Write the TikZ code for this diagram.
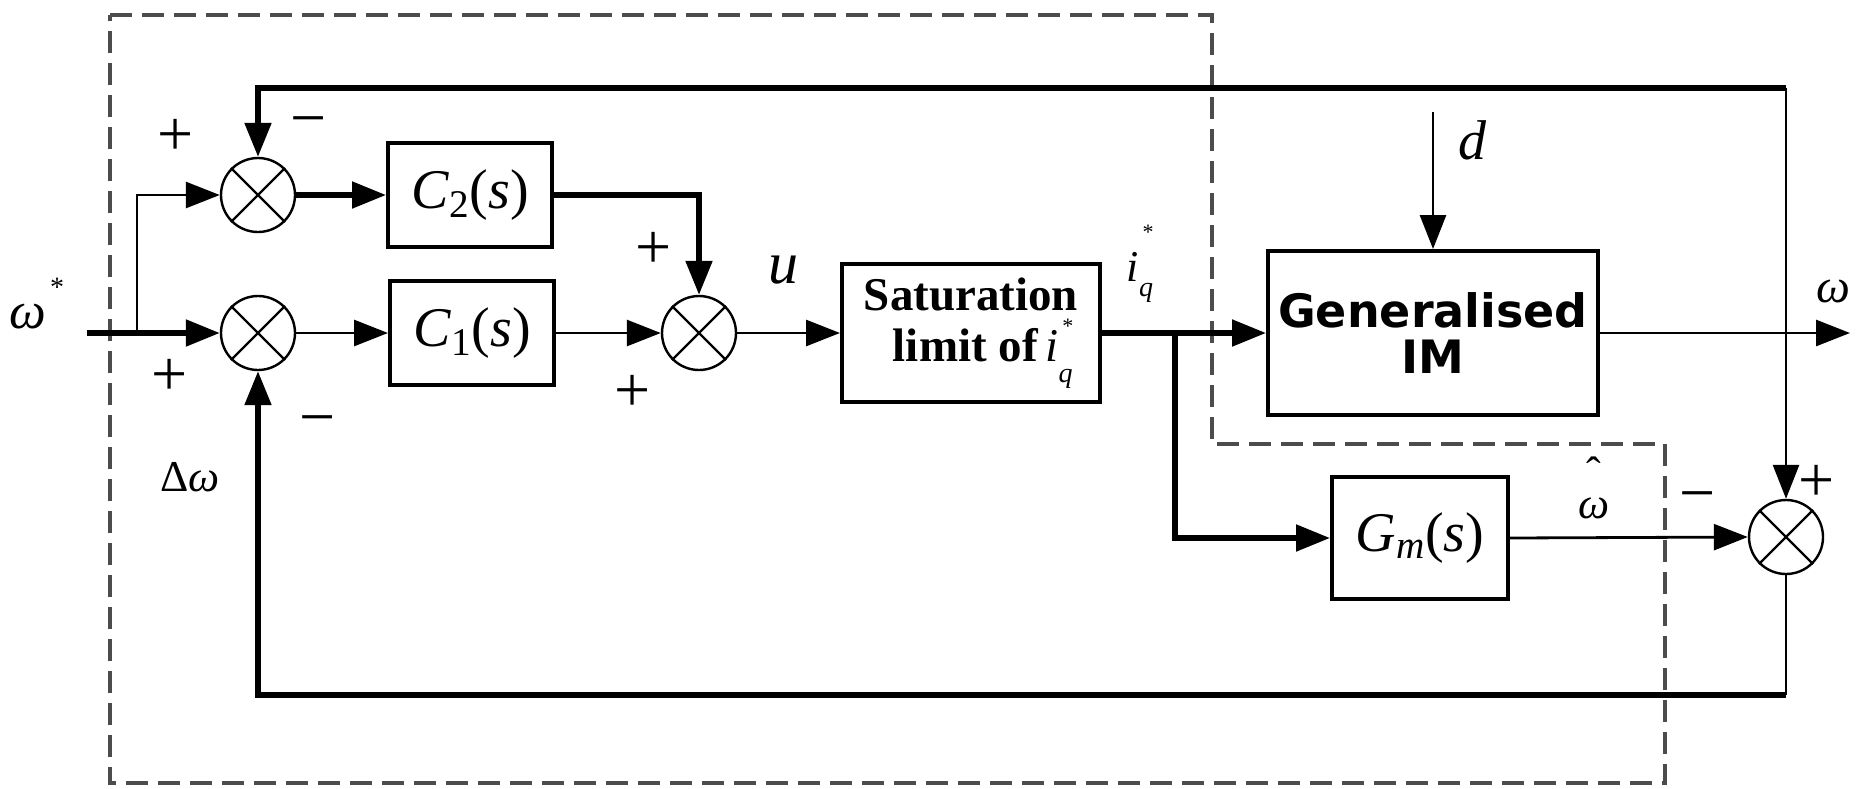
\documentclass[tikz,border=0pt]{standalone}
\usepackage{fontspec}
\setmainfont{Liberation Serif}
\newfontfamily\gimfont{DejaVu Sans}
\usetikzlibrary{arrows.meta}
\newcommand\fsz[1]{\fontsize{#1}{#1}\selectfont}
\newcommand\iqstar[2]{\textit{i}\makebox[0pt][l]{\kern0.08em\raisebox{#1}{\fsz{11}*}}\raisebox{-#2}{\fsz{14}\textit{q}}}
\newcommand\mysum[2]{\node[sumnode] (#1) at (#2) {};
  \draw[line width=1.2pt] (#1.north west) -- (#1.south east) (#1.north east) -- (#1.south west);}
\begin{document}
\begin{tikzpicture}[x=0.5pt,y=-0.5pt,
  thk/.style={line width=2.6pt},
  thn/.style={line width=1.4pt},
  arr/.style={-{Triangle[length=17pt,width=13pt]}},
  blk/.style={draw, line width=2pt, inner sep=0pt, align=center},
  sumnode/.style={circle, draw, line width=1.2pt, minimum size=37pt, inner sep=0pt},
  dashline/.style={draw=black!70, line width=1.6pt, dash pattern=on 11pt off 5pt},
  lbl/.style={inner sep=0pt},
  sgn/.style={inner sep=0pt, font=\fsz{32}}
]
\useasboundingbox (0,0) rectangle (1867,788);

% dashed boundary
\draw[dashline] (110,15) -- (1212,15) -- (1212,444) -- (1665,444) -- (1665,783) -- (110,783) -- cycle;

% blocks
\node[blk, minimum width=82pt, minimum height=52pt] (C2) at (470,195) {\fsz{28}\textit{C}\textsubscript{2}(\textit{s})};
\node[blk, minimum width=82pt, minimum height=52pt] (C1) at (472,333) {\fsz{28}\textit{C}\textsubscript{1}(\textit{s})};
\node[blk, minimum width=129pt, minimum height=69pt] (Sat) at (971,333) {\fsz{23.5}\bfseries Saturation\\[3pt]\fsz{23.5}\bfseries\ \ limit of\,{\mdseries\iqstar{0.6em}{0.45em}}};
\node[blk, minimum width=165pt, minimum height=82pt] (GIM) at (1433,333) {\gimfont\bfseries\fsz{23}Generalised\\[5pt]\gimfont\bfseries\fsz{23}IM};
\node[blk, minimum width=88pt, minimum height=61pt] (Gm) at (1420,538) {\fsz{28}\textit{G}\textsubscript{\textit{m}}(\textit{s})};

% summing junctions
\mysum{S2}{258,195}
\mysum{S1}{258,333}
\mysum{S3}{699,333}
\mysum{S4}{1786,537}

% coordinates
\coordinate (in) at (87,333);
\coordinate (br) at (137,333);
\coordinate (br2) at (1175,333);
\coordinate (wout) at (1850,333);
\coordinate (dtop) at (1433,112);
\coordinate (tl) at (258,88);
\coordinate (tr) at (1786,88);
\coordinate (bl) at (258,695);
\coordinate (br4) at (1786,695);

% connectors
\draw[thk,arr] (in) -- (S1.west);
\draw[thn,arr] (br) |- (S2.west);
\draw[thk,arr] (S2.east) -- (C2.west);
\draw[thk,arr] (C2.east) -| (S3.north);
\draw[thn,arr] (S1.east) -- (C1.west);
\draw[thn,arr] (C1.east) -- (S3.west);
\draw[thn,arr] (S3.east) -- (Sat.west);
\draw[thk,arr] (Sat.east) -- (GIM.west);
\draw[thk,arr] (br2) |- (Gm.west);
\draw[thn,arr] (Gm.east) -- (S4.west);
\draw[thn,arr] (GIM.east) -- (wout);
\draw[thn,arr] (dtop) -- (GIM.north);
\draw[thk,arr,line join=miter] (tr) -- (tl) -- (S2.north);
\draw[thn,arr] (tr) -- (S4.north);
\draw[thn] (S4.south) -- (br4);
\draw[thk,arr,line join=miter] (br4) -- (bl) -- (S1.south);

% labels
\node[lbl] (wlab) at (28,317) {\fsz{26}\textit{ω}};
\node[lbl] (wstar) at (57,287) {\fsz{14}*};
\node[sgn] (p1) at (176,137) {+};
\node[sgn] (m1) at (309,128) {−};
\node[sgn] (p2) at (170,377) {+};
\node[sgn] (m2) at (318,427) {−};
\node[sgn] (p3) at (654,250) {+};
\node[sgn] (p4) at (633,393) {+};
\node[lbl] (ulab) at (783,270) {\fsz{30}\textit{u}};
\node[lbl] (dw) at (190,477) {\fsz{22}Δ\textit{ω}};
\node[lbl] (iq) at (1140,264) {\fsz{22}\iqstar{0.95em}{0.35em}};
\node[lbl] (dlab) at (1473,140) {\fsz{28}\textit{d}};
\node[lbl] (wolab) at (1833,291) {\fsz{24}\textit{ω}};
\node[lbl] (whlab) at (1594,508) {\fsz{22}\ooalign{\textit{ω}\cr\hidewidth\raisebox{0.7em}{ˆ}\hidewidth\cr}};
\node[sgn] (m3) at (1698,503) {−};
\node[sgn] (p5) at (1817,483) {+};
\end{tikzpicture}
\end{document}
